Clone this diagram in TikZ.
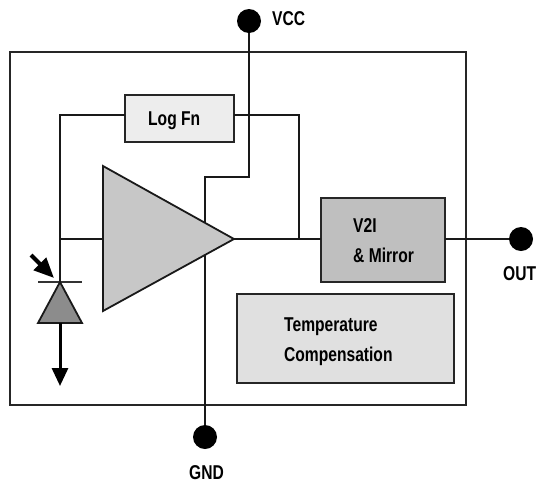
\documentclass[tikz,border=0pt]{standalone}
\usepackage{fontspec}
\usetikzlibrary{arrows.meta}
\newfontfamily\labelfont[FakeStretch=0.78]{Liberation Sans Bold}
\tikzset{
	wire/.style={draw=black!90,line width=1.9pt},
	block/.style={draw=black!85,line width=2pt,inner sep=0pt,outer sep=0pt,anchor=north west},
	pin/.style={circle,fill=black,inner sep=0pt,minimum size=24pt},
	txt/.style={font=\labelfont\fontsize{20}{22}\selectfont,inner sep=0pt,anchor=base west}
}
\begin{document}
\begin{tikzpicture}[x=1pt,y=-1pt]
	\useasboundingbox (0,0) rectangle (536,483);
	\node[block,minimum width=456pt,minimum height=353pt] (chip) at (10,52) {};
	\node[pin] (vcc) at (249,21) {};
	\node[pin] (gnd) at (205,437) {};
	\node[pin] (out) at (521,239) {};
	\node[block,fill=black!7,minimum width=109pt,minimum height=47pt] (logfn) at (125,95) {};
	\node[block,fill=black!25,minimum width=124pt,minimum height=84pt] (vtwoi) at (321,198) {};
	\node[block,fill=black!12,minimum width=217pt,minimum height=89pt] (tempcomp) at (237,294) {};
	\coordinate (ampin) at (103,239);
	\coordinate (ampout) at (234,239);
	\coordinate (join) at (299,239);
	\coordinate (diodetop) at (60,282);
	\coordinate (diodebase) at (60,323);
	\coordinate (diodeend) at (60,386);
	\coordinate (lightstart) at (31,255);
	\coordinate (lightend) at (54,278);
	% wires go under the amplifier
	\draw[wire] (vcc) -- (249,177) -- (205,177) -- (gnd);
	\draw[wire] (logfn.west |- 0,115) -- (60,115) -- (diodetop);
	\draw[wire] (logfn.east |- 0,115) -- (299,115) -- (join);
	\draw[wire] (60,239) -- (ampin);
	\draw[wire] (ampout) -- (vtwoi.west |- ampout);
	\draw[wire] (vtwoi.east |- ampout) -- (out);
	\draw[draw=black!90,line width=1.8pt,fill=black!22,line join=miter] (103,166) -- (ampout) -- (103,311) -- cycle;
	% photodiode
	\draw[line width=1.2pt,black!80] (38,282) -- (82,282);
	\draw[draw=black!90,line width=1.8pt,fill=black!45] (diodetop) -- (82,323) -- (38,323) -- cycle;
	\draw[line width=3pt,-{Triangle[length=18pt,width=16pt]}] (diodebase) -- (diodeend);
	\draw[line width=4pt,-{Triangle[length=20pt,width=17pt]}] (lightstart) -- (lightend);
	\node[txt] at (272,25) {VCC};
	\node[txt] at (189,479) {GND};
	\node[txt] at (503,280) {OUT};
	\node[txt] at (148,125) {Log Fn};
	\node[txt] at (353,232) {V2I};
	\node[txt] at (353,262) {\& Mirror};
	\node[txt] at (284,331) {Temperature};
	\node[txt] at (284,361) {Compensation};
\end{tikzpicture}
\end{document}
